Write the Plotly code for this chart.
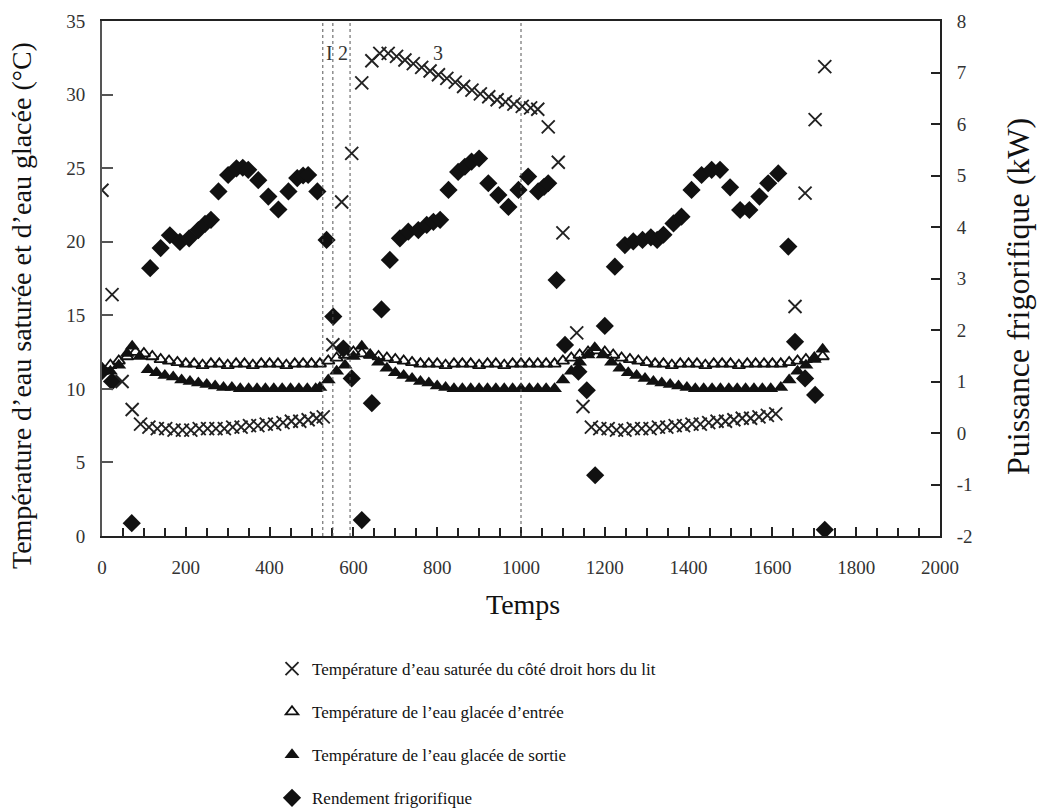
import plotly.graph_objects as go

# ---------------- data ----------------
t_sat = [0, 24, 48, 72, 92, 112, 132, 152, 172, 192, 212, 232, 252, 272, 292, 312, 332, 352,
         372, 392, 412, 432, 452, 472, 492, 512, 528,
         551, 572, 596, 620, 644, 663, 683, 703, 723, 743, 763, 783, 803, 823, 843, 863,
         883, 903, 923, 943, 963, 983, 1003, 1023, 1040, 1065, 1089, 1100, 1133, 1148,
         1168, 1188, 1208, 1228, 1248, 1268, 1288, 1308, 1328, 1348, 1368, 1388, 1408,
         1428, 1448, 1468, 1488, 1508, 1528, 1548, 1568, 1588, 1608, 1654, 1678, 1702, 1725]
T_sat = [23.5, 16.4, 10.5, 8.6, 7.6, 7.4, 7.3, 7.3, 7.2, 7.2, 7.2, 7.3, 7.3, 7.3, 7.3, 7.4, 7.4, 7.5,
         7.5, 7.6, 7.6, 7.7, 7.8, 7.8, 7.9, 8.0, 8.1,
         13.0, 22.7, 26.0, 30.8, 32.3, 32.8, 32.8, 32.6, 32.35, 32.1, 31.85, 31.6, 31.35, 31.1, 30.85, 30.55,
         30.3, 30.05, 29.85, 29.65, 29.5, 29.35, 29.2, 29.1, 29.0, 27.8, 25.4, 20.6, 13.8, 8.8,
         7.4, 7.3, 7.3, 7.2, 7.2, 7.3, 7.3, 7.3, 7.4, 7.4, 7.5, 7.5, 7.6,
         7.6, 7.7, 7.8, 7.8, 7.9, 8.0, 8.0, 8.1, 8.2, 8.3, 15.6, 23.3, 28.3, 31.9]

t_in = [0, 20, 40, 60, 80, 100, 120, 140, 160, 180, 200, 220, 240, 260, 280, 300, 320, 340, 360,
        380, 400, 420, 440, 460, 480, 500, 520, 540, 560, 580, 600, 620, 640, 660, 680, 700, 720,
        740, 760, 780, 800, 820, 840, 860, 880, 900, 920, 940, 960, 980, 1000, 1020, 1040, 1060,
        1080, 1100, 1120, 1140, 1160, 1180, 1200, 1220, 1240, 1260, 1280, 1300, 1320, 1340, 1360,
        1380, 1400, 1420, 1440, 1460, 1480, 1500, 1520, 1540, 1560, 1580, 1600, 1620, 1640, 1660,
        1680, 1700, 1720]
T_in = [11.2, 11.6, 11.9, 12.2, 12.5, 12.4, 12.2, 12.0, 11.9, 11.8, 11.7, 11.7, 11.6, 11.7, 11.7,
        11.6, 11.7, 11.7, 11.6, 11.7, 11.7, 11.7, 11.6, 11.7, 11.7, 11.7, 11.7, 11.9, 12.1, 12.3,
        12.5, 12.4, 12.3, 12.2, 12.1, 12.0, 11.9, 11.8, 11.7, 11.7, 11.7, 11.6, 11.7, 11.7, 11.7,
        11.6, 11.7, 11.7, 11.6, 11.7, 11.7, 11.7, 11.7, 11.7, 11.7, 11.9, 12.1, 12.3, 12.5, 12.6,
        12.5, 12.3, 12.1, 12.0, 11.9, 11.8, 11.7, 11.7, 11.6, 11.7, 11.7, 11.7, 11.6, 11.7, 11.7,
        11.7, 11.6, 11.7, 11.7, 11.7, 11.7, 11.7, 11.8, 11.9, 12.0, 12.1, 12.2]

t_out = [0, 20, 40, 60, 72, 90, 110, 130, 150, 170, 190, 210, 230, 250, 270, 290, 310, 330, 350,
         370, 390, 410, 430, 450, 470, 490, 510, 520, 540, 560, 580, 600, 620, 640, 660, 680, 700,
         720, 740, 760, 780, 800, 820, 840, 860, 880, 900, 920, 940, 960, 980, 1000, 1020, 1040,
         1060, 1080, 1100, 1120, 1140, 1160, 1176, 1196, 1216, 1236, 1256, 1276, 1296, 1316, 1336,
         1356, 1376, 1396, 1416, 1436, 1456, 1476, 1496, 1516, 1536, 1556, 1576, 1596, 1620, 1640,
         1660, 1680, 1700, 1720]
T_out = [11.4, 11.2, 11.6, 12.4, 12.9, 12.2, 11.3, 11.1, 10.9, 10.8, 10.6, 10.5, 10.4, 10.3, 10.2,
         10.1, 10.1, 10.0, 10.0, 10.0, 10.0, 10.0, 10.0, 10.0, 10.0, 10.0, 10.0, 10.1, 10.6, 11.2,
         11.6, 12.2, 12.9, 12.3, 11.8, 11.4, 11.1, 10.9, 10.7, 10.5, 10.4, 10.2, 10.1, 10.0, 10.0,
         10.0, 10.0, 10.0, 10.0, 10.0, 10.0, 10.0, 10.0, 10.0, 10.0, 10.0, 10.6, 11.2, 11.8, 12.3,
         12.8, 12.3, 11.8, 11.4, 11.1, 10.9, 10.7, 10.5, 10.4, 10.3, 10.2, 10.1, 10.0, 10.0, 10.0,
         10.0, 10.0, 10.0, 10.0, 10.0, 10.0, 10.0, 10.1, 10.6, 11.2, 11.6, 12.0, 12.7]

t_pow = [0, 24, 71, 115, 140, 162, 186, 208, 230, 246, 260, 278, 301, 321, 336, 349, 373, 397,
         421, 445, 466, 480, 492, 514, 536, 552, 576, 596, 620, 644, 667, 687, 711, 731, 755,
         775, 791, 807, 827, 850, 866, 882, 900, 922, 946, 970, 994, 1017, 1041, 1055, 1065,
         1085, 1105, 1137, 1157, 1177, 1200, 1224, 1248, 1268, 1290, 1310, 1325, 1340, 1364,
         1383, 1407, 1431, 1455, 1475, 1499, 1523, 1545, 1569, 1590, 1614, 1638, 1654, 1678,
         1702, 1725]
P_pow = [1.2, 1.0, -1.75, 3.2, 3.59, 3.84, 3.71, 3.78, 3.94, 4.06, 4.14, 4.69, 5.01, 5.14, 5.15,
         5.11, 4.91, 4.59, 4.34, 4.69, 4.95, 5.0, 5.01, 4.69, 3.75, 2.26, 1.64, 1.06, -1.69, 0.58,
         2.40, 3.36, 3.78, 3.91, 3.94, 4.04, 4.10, 4.14, 4.72, 5.07, 5.17, 5.27, 5.33, 4.85, 4.62,
         4.39, 4.72, 4.98, 4.69, 4.78, 4.85, 2.97, 1.71, 1.19, 0.83, -0.82, 2.08, 3.23, 3.65,
         3.72, 3.75, 3.80, 3.75, 3.85, 4.07, 4.20, 4.72, 5.01, 5.11, 5.11, 4.77, 4.33, 4.33,
         4.59, 4.85, 5.04, 3.62, 1.77, 1.06, 0.74, -1.88]

phase_lines = [527, 551, 592, 1000]
phase_labels = ["I", "2", "3"]
phase_label_x = [542, 576, 802]

x_ticks = list(range(0, 2001, 200))
left_ticks = list(range(0, 36, 5))
right_ticks = list(range(-2, 9, 1))
right_ticktext = [str(v) for v in right_ticks]  # plain hyphen minus, as in the reference

names = ["Température d’eau saturée du côté droit hors du lit",
         "Température de l’eau glacée d’entrée",
         "Température de l’eau glacée de sortie",
         "Rendement frigorifique"]

SERIF = "Liberation Serif, Times New Roman, serif"
INK = "#111111"

# plot area in pixels: x 102..940, y 21..536
PL, PR, PT, PB = 102, 940, 21, 536


def px_to_paper_x(px):
    return (px - PL) / (PR - PL)


def px_to_paper_y(py):
    return (PB - py) / (PB - PT)


fig = go.Figure()
fig.add_trace(go.Scatter(x=t_sat, y=T_sat, mode="markers", name=names[0], legendgroup="a",
                         marker=dict(symbol="x-thin", size=13, line=dict(width=1.9, color="#222222"))))
fig.add_trace(go.Scatter(x=t_in, y=T_in, mode="markers", name=names[1], legendgroup="b",
                         marker=dict(symbol="triangle-up-open", size=11, color=INK,
                                     line=dict(width=1.8, color=INK))))
fig.add_trace(go.Scatter(x=t_out, y=T_out, mode="markers", name=names[2], legendgroup="c",
                         marker=dict(symbol="triangle-up", size=13, color=INK, line=dict(width=0))))
fig.add_trace(go.Scatter(x=t_pow, y=P_pow, mode="markers", name=names[3], legendgroup="d",
                         yaxis="y2",
                         marker=dict(symbol="diamond", size=14, color=INK, line=dict(width=0))))

for xv in phase_lines:
    fig.add_shape(type="line", x0=xv, x1=xv, y0=0, y1=1, xref="x", yref="paper",
                  line=dict(color="#555555", width=1, dash="dot"))

for lab, xv in zip(phase_labels, phase_label_x):
    fig.add_annotation(x=xv, y=32.8, xref="x", yref="y", text=lab, showarrow=False,
                       font=dict(family=SERIF, size=20, color="#333333"))

tickfont = dict(family=SERIF, size=19, color="#333333")
fig.update_layout(
    width=1041, height=812,
    margin=dict(l=PL, r=1041 - PR, t=PT, b=812 - PB, autoexpand=False),
    paper_bgcolor="white", plot_bgcolor="white",
    showlegend=True,
    legend=dict(x=px_to_paper_x(272), y=px_to_paper_y(651), xref="paper", yref="paper",
                xanchor="left", yanchor="top",
                font=dict(family=SERIF, size=17, color=INK),
                tracegroupgap=18, bgcolor="rgba(0,0,0,0)"),
    xaxis=dict(range=[0, 2000], tickvals=x_ticks, ticks="inside", ticklen=9, tickwidth=1.5,
               tickcolor="#222", showline=True, linecolor="#222", linewidth=2, mirror=True,
               showgrid=False, zeroline=False, tickfont=tickfont, ticklabelstandoff=13,
               minor=dict(dtick=50, ticks="inside", ticklen=8, tickwidth=1.5, tickcolor="#222")),
    yaxis=dict(range=[0, 35], tickvals=left_ticks, ticks="inside", ticklen=11, tickwidth=1.5,
               tickcolor="#555", showline=True, linecolor="#555", linewidth=2,
               showgrid=False, zeroline=False, tickfont=tickfont, ticklabelstandoff=11),
    yaxis2=dict(range=[-2, 8], tickvals=right_ticks, ticktext=right_ticktext,
                overlaying="y", side="right",
                ticks="inside", ticklen=9, tickwidth=1.5, tickcolor="#222", showline=True,
                linecolor="#222", linewidth=2, showgrid=False, zeroline=False,
                tickfont=tickfont, ticklabelstandoff=11),
)

fig.add_annotation(x=px_to_paper_x(523), y=px_to_paper_y(604), xref="paper", yref="paper",
                   text="Temps", showarrow=False, xanchor="center", yanchor="middle",
                   font=dict(family=SERIF, size=28, color=INK))
fig.add_annotation(x=px_to_paper_x(21), y=px_to_paper_y(306), xref="paper", yref="paper",
                   text="Température d’eau saturée et d’eau glacée (°C)", textangle=-90,
                   showarrow=False, xanchor="center", yanchor="middle",
                   font=dict(family=SERIF, size=28, color=INK))
fig.add_annotation(x=px_to_paper_x(1018), y=px_to_paper_y(297), xref="paper", yref="paper",
                   text="Puissance frigorifique (kW)", textangle=-90,
                   showarrow=False, xanchor="center", yanchor="middle",
                   font=dict(family=SERIF, size=32, color=INK))

fig.write_html("out.html")
